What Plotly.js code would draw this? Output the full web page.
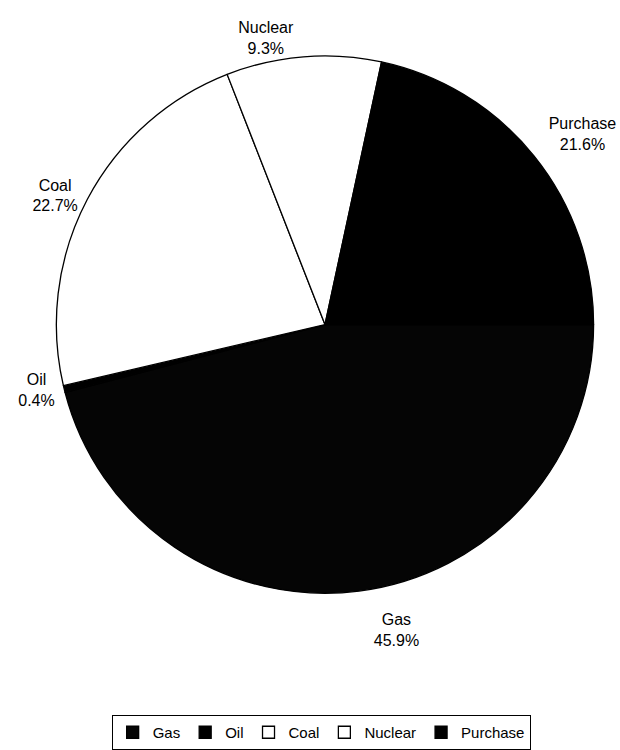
<!DOCTYPE html>
<html>
<head>
<meta charset="utf-8">
<script src="https://cdn.plot.ly/plotly-3.0.1.min.js"></script>
<style>html,body{margin:0;padding:0;background:#fff;}#chart{width:620px;height:750px;}</style>
</head>
<body>
<div id="chart"></div>
<script>
var categories = ["Gas", "Oil", "Coal", "Nuclear", "Purchase"];
var shares = [45.9, 0.4, 22.7, 9.3, 21.6];
var sliceColors = ["#050505", "#000000", "#ffffff", "#ffffff", "#000000"];

// per-slice label templates: padding lines keep labels a little farther from the pie
var labelTemplates = categories.map(function (c) {
  var t = "%{label}<br>%{percent:.1%}";
  if (c === "Gas") return "&nbsp;<br>" + t;
  if (c === "Purchase") return t + "<br> ";
  return t;
});

var trace = {
  type: "pie",
  labels: categories,
  values: shares,
  sort: false,
  direction: "clockwise",
  rotation: 90,
  marker: { colors: sliceColors, line: { color: "#000000", width: 1.3 } },
  textposition: "outside",
  texttemplate: labelTemplates,
  textfont: { family: "Liberation Sans, Arial, sans-serif", size: 16, color: "#000" },
  hoverinfo: "label+percent",
  domain: { x: [0.0903, 0.958], y: [0.208, 0.9253] }
};

var layout = {
  width: 620,
  height: 750,
  margin: { l: 0, r: 0, t: 0, b: 0 },
  paper_bgcolor: "#ffffff",
  font: { family: "Liberation Sans, Arial, sans-serif", size: 16, color: "#000" },
  showlegend: true,
  legend: {
    orientation: "h",
    x: 0.518, xanchor: "center",
    y: 0.045, yanchor: "top",
    bordercolor: "#000", borderwidth: 1,
    font: { size: 15 },
    itemwidth: 30,
    traceorder: "normal"
  }
};

Plotly.newPlot("chart", [trace], layout, { staticPlot: true });
</script>
</body>
</html>
